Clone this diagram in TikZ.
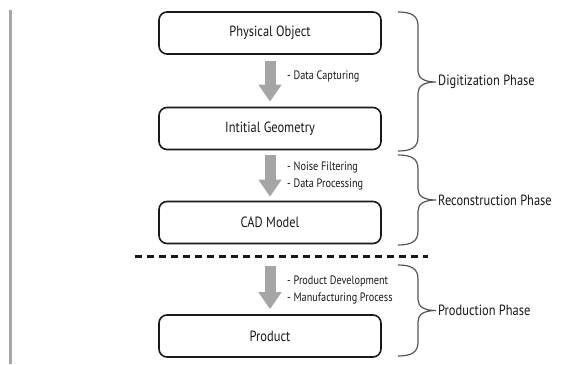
\documentclass[tikz,border=0pt]{standalone}
\usepackage{fontspec}
\setmainfont{PT Sans}[FakeStretch=0.84]
\usetikzlibrary{arrows.meta}
\definecolor{txt}{RGB}{25,25,25}
\definecolor{arr}{RGB}{165,165,165}
\definecolor{brc}{RGB}{85,85,85}
\tikzset{
  stagebox/.style={draw=black!90, line width=1.6pt, rounded corners=8pt,
    minimum width=222pt, minimum height=42pt, inner sep=0pt, text=txt,
    font=\fontsize{14.8}{16}\selectfont},
  flowarrow/.style={draw=arr, line width=11pt,
    -{Triangle[width=22pt,length=17pt]}},
  steplabel/.style={anchor=west, inner sep=0pt, text=txt,
    font=\fontsize{12.2}{17}\selectfont, align=left},
  phasebrace/.style={draw=brc, line width=1.2pt},
  phaselabel/.style={anchor=west, inner sep=0pt, text=txt,
    font=\fontsize{14.8}{16}\selectfont},
}
% #1 top y, #2 middle y, #3 bottom y
\newcommand\phasebr[3]{%
  \draw[phasebrace] (398,#1) .. controls (412,#1) and (418,{#1+4}) .. (418,{#1+14})
    -- (418,{#2-11}) .. controls (418,{#2-4}) and (424,#2) .. (436,#2)
    .. controls (424,#2) and (418,{#2+4}) .. (418,{#2+11})
    -- (418,{#3-14}) .. controls (418,{#3-4}) and (412,#3) .. (398,#3);}
\begin{document}
\begin{tikzpicture}[x=1pt,y=-1pt]
\useasboundingbox (0,0) rectangle (562,364);
\fill[white] (0,0) rectangle (562,364);
% left rule
\draw[draw=black!35, line width=2.2pt] (10.5,10) -- (10.5,364);
% boxes
\node[stagebox] (po) at (270,33) {Physical Object};
\node[stagebox] (ig) at (270,128.5) {Intitial Geometry};
\node[stagebox] (cad) at (270,222.5) {CAD Model};
\node[stagebox] (prod) at (270,336) {Product};
% arrows
\draw[flowarrow] ([yshift=-6pt]po.south) -- ([yshift=5pt]ig.north);
\draw[flowarrow] ([yshift=-5pt]ig.south) -- ([yshift=4pt]cad.north);
\draw[flowarrow] ([yshift=-22pt]cad.south) -- ([yshift=5pt]prod.north);
% step labels
\node[steplabel] (l1) at (287,76) {- Data Capturing};
\node[steplabel] (l2) at (287,176) {- Noise Filtering\\- Data Processing};
\node[steplabel] (l3) at (287,290) {- Product Development\\- Manufacturing Process};
% dashed separator
\coordinate (dA) at (135,256.5);
\coordinate (dB) at (428,256.5);
\draw[line width=2.6pt, black!90, dash pattern=on 7pt off 5pt] (dA) -- (dB);
% braces
\phasebr{12}{82}{151}
\phasebr{155}{200}{245}
\phasebr{265}{310.5}{356}
\node[phaselabel] (p1) at (438,82) {Digitization Phase};
\node[phaselabel] (p2) at (438,200) {Reconstruction Phase};
\node[phaselabel] (p3) at (438,310.5) {Production Phase};
\end{tikzpicture}
\end{document}
